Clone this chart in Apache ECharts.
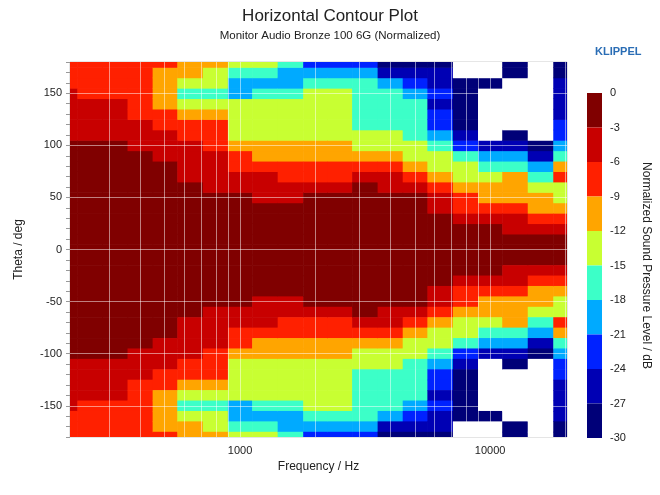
<!DOCTYPE html>
<html><head><meta charset="utf-8">
<script src="https://cdn.jsdelivr.net/npm/echarts@6/dist/echarts.min.js"></script>
<style>html,body{margin:0;padding:0;background:#fff}#c{width:660px;height:495px}</style>
</head><body><div id="c"></div>
<script>
// Frequencies (Hz), third-octave columns
const freqs = [200,250,315,400,500,630,800,1000,1250,1600,2000,2500,3150,4000,5000,6300,8000,10000,12500,16000,20000];
// Angles 0..180 deg (step 10); the lower half mirrors the upper half
const angles = [0,10,20,30,40,50,60,70,80,90,100,110,120,130,140,150,160,170,180];
// Normalized SPL (dB) per frequency column, values at angles 0..180
const splColumns = [
 [0,-0.2,-0.4,-0.7,-1,-1.4,-1.8,-2.1,-2.4,-2.7,-2.9,-3.5,-4.2,-4.8,-5.4,-5.9,-6.8,-7.4,-7.8],
 [0,-0.2,-0.4,-0.7,-1.1,-1.5,-1.9,-2.3,-2.6,-2.8,-2.95,-3.6,-4.3,-5,-5.5,-6.1,-7,-7.6,-8],
 [0,-0.2,-0.5,-0.8,-1.2,-1.6,-2,-2.4,-2.7,-2.9,-2.95,-3.8,-4.5,-5.2,-5.8,-6.6,-7.4,-7.9,-8.3],
 [0,-0.2,-0.5,-0.9,-1.3,-1.7,-2.1,-2.5,-2.8,-2.95,-3.3,-4.2,-5.2,-6.2,-7.2,-8,-8.6,-8.8,-8.9],
 [0,-0.2,-0.5,-0.9,-1.4,-1.9,-2.4,-2.7,-2.9,-4,-4.8,-5.6,-6.6,-8.2,-10,-10.8,-10.5,-9.6,-8.9],
 [0,-0.3,-0.6,-1.1,-1.7,-2.3,-2.8,-3.8,-4.6,-5.3,-5.8,-7,-8.4,-10.5,-12.3,-15.3,-13.5,-11.8,-10.8],
 [0,-0.3,-0.7,-1.3,-2,-2.9,-3.6,-4.3,-5,-5.7,-6.6,-7.6,-8.6,-10.5,-13,-16,-14.8,-13.2,-11.5],
 [0,-0.3,-0.7,-1.3,-2.1,-2.9,-4.6,-5.7,-7,-8.3,-10.6,-12.3,-13.2,-13.8,-14.7,-18.4,-19.5,-16.8,-14],
 [0,-0.3,-0.8,-1.5,-2.4,-3.5,-4.6,-5.5,-7.5,-9.8,-11,-12.8,-13.5,-14,-14.6,-16.5,-19.5,-17,-14.5],
 [0,-0.3,-0.8,-1.5,-2.9,-3.8,-4.8,-6.5,-8.5,-10.5,-11.5,-13,-13.8,-14.2,-14.8,-16.5,-19.5,-19.8,-17],
 [0,-0.3,-0.8,-1.5,-2.2,-2.9,-4.5,-6.8,-8.2,-10.3,-11.5,-12.6,-13.3,-13.8,-14.2,-14.8,-16.5,-19.5,-22],
 [0,-0.3,-0.7,-1.3,-1.9,-2.4,-4,-7,-8.5,-10.4,-11.6,-12.8,-13.5,-14,-14.3,-14.9,-16.8,-19.8,-22.8],
 [0,-0.3,-0.7,-1.2,-1.8,-2.4,-2.9,-4.5,-7.5,-10,-12.8,-13.9,-15.3,-15.5,-15.8,-16.6,-17,-19.5,-23.5],
 [0,-0.3,-0.7,-1.3,-1.9,-2.6,-3.6,-5,-7.4,-10.2,-12.9,-14,-15.5,-16,-16.5,-17,-20,-24.2,-28],
 [0,-0.3,-0.7,-1.4,-2,-2.8,-3.1,-7.5,-9.5,-12,-13.5,-15.5,-16.5,-17,-17.5,-19.5,-23,-25.5,-28.5],
 [0,-0.5,-1.2,-2.5,-4.5,-5.8,-7.5,-10.5,-13,-14.5,-16.5,-19.5,-21.3,-22.5,-24,-23,-25,-26,-28],
 [0,-0.8,-2.5,-4.5,-7,-8.5,-10.5,-13,-14,-16.8,-22.5,-25.5,-28,-28.5,-28.5,-29,-29.5,-32,-33],
 [0,-1,-2.9,-4.5,-7.5,-10,-11,-13.5,-16.5,-19.5,-25.5,-30.5,-32,-32,-32,-31,-29,-31,-32],
 [0,-2,-4.5,-5,-7.5,-10.5,-11,-11.5,-16.5,-19.5,-25.5,-29,-32,-32,-32,-32,-32,-29,-29],
 [0,-2.2,-5,-7.5,-9.8,-11,-13.5,-16.5,-19.5,-25.5,-28.5,-32,-32,-32,-32,-32,-32,-32,-32],
 [0,-2,-5,-7.5,-11,-13,-12,-8,-10.5,-16.5,-19.5,-22.5,-23.5,-25.5,-26,-26,-26.5,-27,-27.5]
];
const levelColors = ['#800000','#c80000','#ff2000','#ffa500','#c8ff32','#3cffc8','#00aaff','#0022ff','#0000b4','#000078'];
const levelStep = 3;
const yTickLabels = [150,100,50,0,-50,-100,-150];
const xTickLabels = [1000,10000];
const xGridValues = [300,400,500,600,700,800,900,2000,3000,4000,5000,6000,7000,8000,9000,20000];

const fMin = 209, fMax = 20300;
const cells = [];
freqs.forEach((f, i) => {
  const fL = i === 0 ? fMin : Math.sqrt(freqs[i-1]*f);
  const fR = i === freqs.length-1 ? fMax : Math.sqrt(freqs[i+1]*f);
  angles.forEach((a, j) => {
    const v = splColumns[i][j];
    [a, -a].forEach((s, k) => {
      if (k === 1 && a === 0) return;
      cells.push([f, s, v, fL, fR, Math.max(-180, s-5), Math.min(180, s+5)]);
    });
  });
});
const pieces = levelColors.map((c, k) => ({min: -levelStep*(k+1), max: k === 0 ? 1 : -levelStep*k, color: c}));
pieces.push({max: -30, color: '#ffffff'});

const chart = echarts.init(document.getElementById('c'));
const bandSeries = levelColors.map((c, k) => ({
  type: 'bar', xAxisIndex: 1, yAxisIndex: 1, stack: 'cb', barWidth: '100%',
  data: [-levelStep], itemStyle: {color: c}, silent: true
}));
chart.setOption({
  animation: false,
  title: [
    {text: 'Horizontal Contour Plot', left: 'center', top: 3, textStyle: {fontFamily: 'Liberation Sans', fontSize: 17, fontWeight: 'normal', color: '#222'}},
    {text: 'Monitor Audio Bronze 100 6G (Normalized)', left: 'center', top: 25, textStyle: {fontFamily: 'Liberation Sans', fontSize: 11.5, fontWeight: 'normal', color: '#222'}},
    {text: 'KLIPPEL', left: 590, top: 41, textStyle: {fontFamily: 'Liberation Sans', fontSize: 11, fontWeight: 'bold', color: '#2a6db5'}}
  ],
  visualMap: {type: 'piecewise', show: false, dimension: 2, seriesIndex: 0, pieces: pieces},
  grid: [
    {left: 70, right: 93, top: 62, bottom: 58, show: true, borderColor: '#ccc', borderWidth: 1},
    {left: 587, width: 15, top: 93, height: 345}
  ],
  xAxis: [
    {type: 'log', logBase: 10, min: fMin, max: fMax, gridIndex: 0,
     name: 'Frequency / Hz', nameLocation: 'middle', nameGap: 23,
     nameTextStyle: {fontFamily: 'Liberation Sans', fontSize: 12, color: '#222'},
     axisLine: {show: false}, axisTick: {show: false}, splitLine: {show: false},
     axisLabel: {fontFamily: 'Liberation Sans', fontSize: 11, color: '#222', showMinLabel: false, showMaxLabel: false,
       formatter: v => xTickLabels.indexOf(Math.round(v)) >= 0 ? String(Math.round(v)) : ''}},
    {type: 'category', gridIndex: 1, data: ['c'], show: false}
  ],
  yAxis: [
    {type: 'value', min: -180, max: 180, interval: 10, gridIndex: 0,
     name: 'Theta / deg', nameLocation: 'middle', nameGap: 45,
     nameTextStyle: {fontFamily: 'Liberation Sans', fontSize: 12, color: '#222'},
     axisLine: {show: false}, splitLine: {show: false},
     axisTick: {show: true, length: 4, lineStyle: {color: '#999'}},
     axisLabel: {fontFamily: 'Liberation Sans', fontSize: 11, color: '#222', margin: 8,
       formatter: v => yTickLabels.indexOf(v) >= 0 ? String(v) : ''}},
    {type: 'value', min: -30, max: 0, interval: 3, gridIndex: 1, position: 'right',
     name: 'Normalized Sound Pressure Level / dB', nameLocation: 'middle', nameRotate: -90, nameGap: 38,
     nameTextStyle: {fontFamily: 'Liberation Sans', fontSize: 12, color: '#222'},
     axisLine: {show: false}, axisTick: {show: false}, splitLine: {show: false},
     axisLabel: {fontFamily: 'Liberation Sans', fontSize: 11, color: '#222', margin: 8}}
  ],
  series: [
    {type: 'custom', xAxisIndex: 0, yAxisIndex: 0, clip: true, data: cells, encode: {x: 0, y: 1},
     renderItem: (params, api) => {
       const p1 = api.coord([api.value(3), api.value(6)]);
       const p2 = api.coord([api.value(4), api.value(5)]);
       return {type: 'rect', shape: {x: p1[0], y: p1[1], width: p2[0]-p1[0]+0.6, height: p2[1]-p1[1]+0.6},
               style: {fill: api.visual('color')}};
     }},
    {type: 'line', xAxisIndex: 0, yAxisIndex: 0, data: [], silent: true,
     markLine: {silent: true, symbol: 'none', label: {show: false},
       lineStyle: {color: 'rgba(255,255,255,0.5)', type: 'solid', width: 1},
       data: xGridValues.map(v => ({xAxis: v})).concat(xTickLabels.map(v => ({xAxis: v}))).concat(yTickLabels.map(v => ({yAxis: v})))}}
  ].concat(bandSeries)
});
</script></body></html>
